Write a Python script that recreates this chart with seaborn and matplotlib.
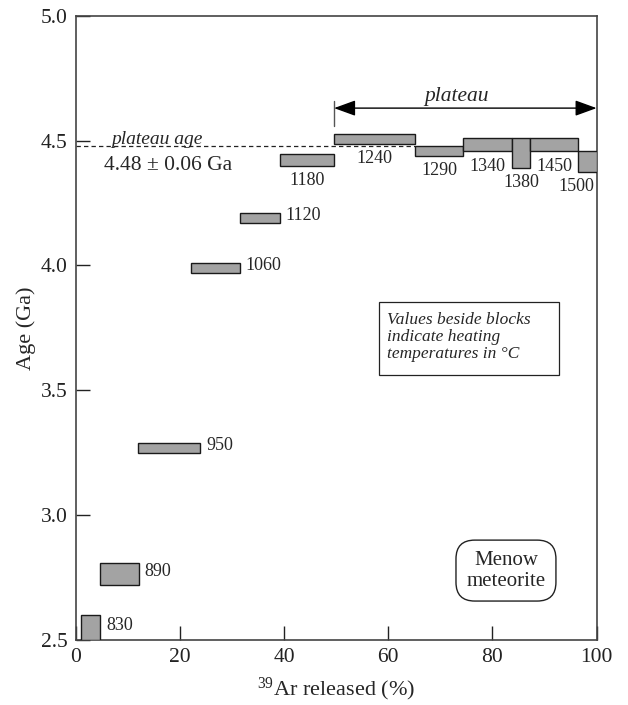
import matplotlib
matplotlib.use("Agg")
import matplotlib.pyplot as plt
import seaborn as sns
import pandas as pd
from matplotlib.patches import Rectangle

# ---- data ----
temps = [830, 890, 950, 1060, 1120, 1180, 1240, 1290, 1340, 1380, 1450, 1500]
x_start = [1.0, 4.7, 12.0, 22.2, 31.5, 39.2, 49.6, 65.1, 74.4, 83.7, 87.3, 96.4]
x_end = [4.7, 12.1, 23.9, 31.5, 39.2, 49.6, 65.1, 74.4, 83.7, 87.3, 96.4, 100.0]
age_lo = [2.50, 2.72, 3.25, 3.97, 4.17, 4.40, 4.487, 4.44, 4.457, 4.392, 4.457, 4.376]
age_hi = [2.60, 2.81, 3.29, 4.01, 4.21, 4.445, 4.528, 4.48, 4.509, 4.509, 4.509, 4.457]
plateau_age = 4.48
plateau_err = 0.06
plateau_start = 49.6
plateau_end = 100.0
x_ticks = [0, 20, 40, 60, 80, 100]
y_ticks = [2.5, 3.0, 3.5, 4.0, 4.5, 5.0]

df = pd.DataFrame({"temp": temps, "x0": x_start, "x1": x_end, "lo": age_lo, "hi": age_hi})
df["width"] = df["x1"] - df["x0"]
df["height"] = df["hi"] - df["lo"]

sns.set_theme(style="ticks")
plt.rcParams["font.family"] = ["Liberation Serif", "DejaVu Serif"]
plt.rcParams["mathtext.fontset"] = "custom"
plt.rcParams["mathtext.rm"] = "Liberation Serif"
plt.rcParams["mathtext.it"] = "Liberation Serif:italic"

fig = plt.figure(figsize=(6.28, 7.05), dpi=100)
ax = fig.add_axes([0.1205, 0.0922, 0.8295, 0.8855])

ax.bar(df["x0"], df["height"], width=df["width"], bottom=df["lo"], align="edge",
       color="#a3a3a3", edgecolor="#1a1a1a", linewidth=1.0, zorder=3)

# labels
side = ["right"] * 5 + ["below"] * 7
dx = [1.1, 1.1, 1.1, 1.1, 1.1, 0, 0, 0, 0, 0, 0, -2.0]
for i in range(len(temps)):
    if side[i] == "right":
        ax.text(x_end[i] + dx[i], (age_lo[i] + age_hi[i]) / 2 + 0.01, str(temps[i]),
                ha="left", va="center", fontsize=13)
    else:
        ax.text((x_start[i] + x_end[i]) / 2 + dx[i], age_lo[i] - 0.06, str(temps[i]),
                ha="center", va="center", fontsize=13)

# plateau age dashed line
ax.plot([0, 65.1], [plateau_age, plateau_age], color="#222222", lw=0.9,
        ls=(0, (3.5, 2.5)), zorder=2)
ax.text(6.9, 4.505, "plateau age", style="italic", fontsize=14, ha="left", va="center")
ax.text(5.4, 4.40, f"{plateau_age:.2f} ± {plateau_err:.2f} Ga", fontsize=15.5,
        ha="left", va="center")

# plateau arrow
ax.annotate("", xy=(plateau_end, 4.63), xytext=(plateau_start, 4.63),
            arrowprops=dict(arrowstyle="<|-|>,head_length=1.1,head_width=0.4",
                            color="black", lw=1.0, shrinkA=0, shrinkB=0))
ax.plot([plateau_start, plateau_start], [4.56, 4.66], color="#555555", lw=1.0)
ax.text(73.1, 4.675, "plateau", style="italic", fontsize=15.5, ha="center", va="center")

# note box
ax.add_patch(Rectangle((58.3, 3.56), 34.5, 0.293, fc="white", ec="#222222", lw=0.9,
                       zorder=4))
ax.text(59.8, 3.815, "Values beside blocks\nindicate heating\ntemperatures in °C",
        style="italic", fontsize=12.5, ha="left", va="top", linespacing=1.1, zorder=5)

# Menow box
ax.text(82.6, 2.778, "Menow\nmeteorite", fontsize=15, ha="center", va="center",
        linespacing=1.15, zorder=5,
        bbox=dict(boxstyle="round,pad=0.5,rounding_size=0.9", fc="white",
                  ec="#222222", lw=1.0))

ax.set_xlim(0, 100)
ax.set_ylim(2.5, 5.0)
ax.set_xticks(x_ticks)
ax.set_yticks(y_ticks)
ax.set_yticklabels([f"{v:.1f}" for v in y_ticks])
ax.tick_params(direction="in", length=10, width=1.0, labelsize=15.5, colors="#222222",
               pad=6)
ax.set_xlabel("$^{39}$Ar released (%)", fontsize=16, labelpad=6)
ax.set_ylabel("Age (Ga)", fontsize=16, labelpad=3)
for s in ax.spines.values():
    s.set_color("#444444")
    s.set_linewidth(1.2)

fig.savefig("out.png", dpi=100)
